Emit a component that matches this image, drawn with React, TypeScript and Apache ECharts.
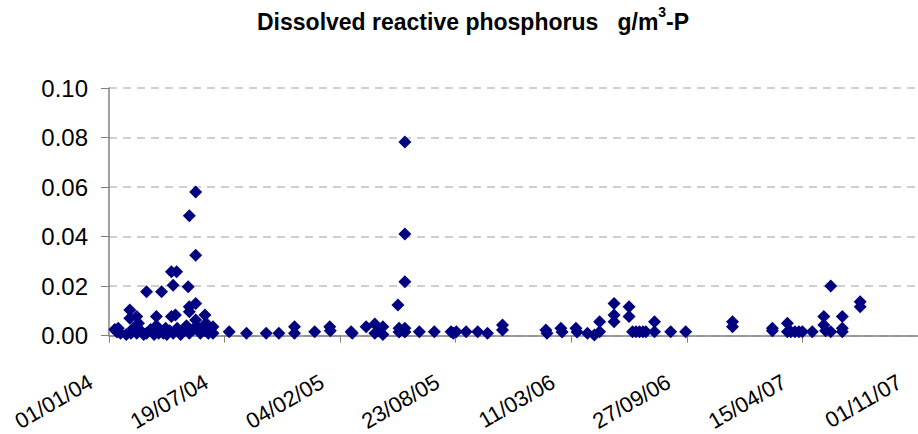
import React, { useEffect, useRef } from "react";
import * as echarts from "echarts";

const chartTitle = "Dissolved reactive phosphorus   g/m";
const titleSup = "3";
const titleTail = "-P";

// x-axis tick labels, one every 200 days from 01/01/04
const tickLabels = [
  "01/01/04",
  "19/07/04",
  "04/02/05",
  "23/08/05",
  "11/03/06",
  "27/09/06",
  "15/04/07",
  "01/11/07",
];

// sample dates, as days after 01/01/04
const sampleDays = [
  10, 14, 16, 20, 30,
  36, 36, 38, 42, 48, 51, 48, 55, 60,
  65, 65, 72, 78, 82, 82, 86, 91, 94, 98,
  100, 105, 108, 117, 111, 108, 115, 111, 118, 124,
  130, 134, 139, 137, 139, 139, 139, 145,
  150, 150, 150, 150, 155, 158,
  166, 168, 166, 172, 180, 180,
  208, 238, 272, 294, 321, 321,
  356, 382, 383, 419, 421, 445, 460, 460, 474, 474, 466,
  500, 502, 502, 512, 512, 512, 512, 512,
  537, 563, 592, 596, 601, 618, 638, 655, 681, 681,
  756, 758, 782, 784, 808, 810, 828, 840, 849, 849,
  874, 874, 874, 900, 900, 906, 912, 918, 924, 929, 944, 944, 972, 998,
  1079, 1079, 1148, 1148, 1174, 1174, 1180, 1187, 1194, 1200, 1217,
  1237, 1237, 1240, 1249, 1249, 1269, 1269, 1269, 1300, 1300,
];

// dissolved reactive phosphorus, g/m3-P
const drpValues = [
  0.0025, 0.0015, 0.003, 0.001, 0.0005,
  0.0104, 0.007, 0.001, 0.003, 0.0077, 0.005, 0.001, 0.002, 0.0005,
  0.0177, 0.001, 0.0025, 0.0005, 0.0077, 0.004, 0.001, 0.0177, 0.001, 0.003,
  0.0005, 0.002, 0.0258, 0.0258, 0.0204, 0.0077, 0.0083, 0.001, 0.003, 0.0005,
  0.002, 0.004, 0.0484, 0.0197, 0.0117, 0.0097, 0.001, 0.0025,
  0.058, 0.0325, 0.013, 0.0063, 0.003, 0.001,
  0.0083, 0.005, 0.002, 0.001, 0.0036, 0.001,
  0.0016, 0.001, 0.001, 0.001, 0.0036, 0.001,
  0.0016, 0.0036, 0.002, 0.0016, 0.001, 0.0036, 0.0047, 0.001, 0.0036, 0.0005, 0.002,
  0.0124, 0.003, 0.0015, 0.0782, 0.041, 0.0218, 0.003, 0.0015,
  0.0016, 0.0016, 0.0016, 0.001, 0.0016, 0.0016, 0.0016, 0.001, 0.0043, 0.0023,
  0.0023, 0.001, 0.003, 0.0015, 0.003, 0.0015, 0.001, 0.0003, 0.0056, 0.0016,
  0.013, 0.0083, 0.0056, 0.0117, 0.0077, 0.0016, 0.0016, 0.0016, 0.0016, 0.0016, 0.0056, 0.0016, 0.0016, 0.0016,
  0.0056, 0.0036, 0.003, 0.002, 0.005, 0.0016, 0.0016, 0.0016, 0.0016, 0.0016, 0.0016,
  0.0077, 0.0043, 0.002, 0.02, 0.0016, 0.0077, 0.003, 0.0016, 0.0137, 0.0117,
];

const FONT = "'Liberation Sans', Arial, sans-serif";

export default function App() {
  const ref = useRef<HTMLDivElement>(null);

  useEffect(() => {
    if (!ref.current) return;
    const chart = echarts.init(ref.current, null, { renderer: "svg" });
    const points = sampleDays.map((d, i) => [d, drpValues[i]]);
    chart.setOption({
      animation: false,
      backgroundColor: "#ffffff",
      textStyle: { fontFamily: FONT },
      title: {
        text: `{t|${chartTitle}}{s|${titleSup}}{t|${titleTail}}`,
        left: 252,
        top: 0,
        textStyle: {
          rich: {
            t: {
              fontSize: 23,
              fontWeight: "bold",
              fontFamily: FONT,
              color: "#000",
              lineHeight: 28,
              verticalAlign: "bottom",
            },
            s: {
              fontSize: 14,
              fontWeight: "bold",
              fontFamily: FONT,
              color: "#000",
              lineHeight: 28,
              verticalAlign: "top",
            },
          },
        },
      },
      grid: { left: 109, top: 88, width: 810, height: 248, containLabel: false },
      xAxis: {
        type: "value",
        min: 0,
        max: 1400,
        interval: 200,
        axisLine: { show: true, lineStyle: { color: "#808080", width: 1.5 } },
        axisTick: { show: true, length: 7, lineStyle: { color: "#808080", width: 1 } },
        splitLine: { show: false },
        axisLabel: {
          rotate: 30,
          margin: 34,
          padding: [0, 21, 0, 0],
          fontSize: 22,
          fontFamily: FONT,
          color: "#000",
          showMinLabel: true,
          showMaxLabel: true,
          formatter: (v: number) => tickLabels[Math.round(v / 200)] ?? "",
        },
      },
      yAxis: {
        type: "value",
        min: 0,
        max: 0.1,
        interval: 0.02,
        axisLine: { show: true, lineStyle: { color: "#808080", width: 1.5 } },
        axisTick: { show: true, length: 8, lineStyle: { color: "#808080", width: 1 } },
        splitLine: {
          show: true,
          lineStyle: { color: "#c0c0c0", width: 1.5, type: [8, 6] },
        },
        axisLabel: {
          margin: 21,
          fontSize: 24,
          fontFamily: FONT,
          color: "#000",
          formatter: (v: number) => v.toFixed(2),
        },
      },
      series: [
        {
          type: "scatter",
          data: points,
          symbol: "diamond",
          symbolSize: 13,
          itemStyle: { color: "#000080", opacity: 1 },
          clip: false,
        },
      ],
    });
    return () => chart.dispose();
  }, []);

  return (
    <div
      ref={ref}
      style={{ position: "absolute", left: 0, top: 0, width: 918, height: 434 }}
    />
  );
}
